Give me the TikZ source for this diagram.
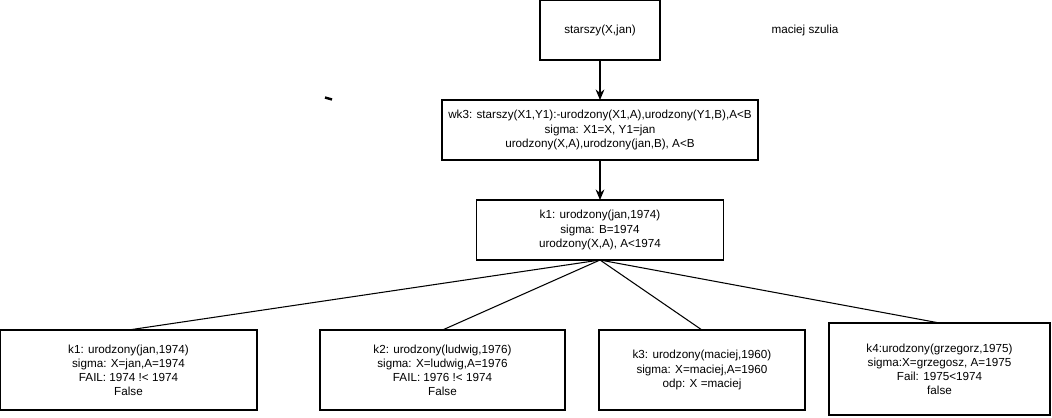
\documentclass[tikz,border=0pt]{standalone}
\usepackage{fontspec}
\setmainfont{Liberation Sans}
\usepackage{xcolor}
\usetikzlibrary{positioning, arrows.meta}

\begin{document}
\begin{tikzpicture}[
            box/.style={
                    draw,
                    line width=0.6pt,
                    inner sep=0pt,
                    outer sep=0pt,
                    minimum height=1.2cm,
                    align=center,
                    font=\fontsize{6.65}{8}\selectfont
                },
            arrow/.style={
                    -{Stealth[length=6pt,width=5pt]},
                    line width=0.6pt
                },
            edge/.style={
                    line width=0.6pt
                }
        ]

        \useasboundingbox (0,0) rectangle (21.04,-8.34);


        \node[box,minimum width=2.4cm] (goal) at (12,-0.6)
        {starszy(X,jan)};


        \node[font=\fontsize{6.65}{8}\selectfont] (author) at (16.1,-0.6)
        {maciej szulia};


        \node[box,minimum width=6.32cm,below=0.8cm of goal]
        (wk3)
        {wk3: starszy(X1,Y1):-urodzony(X1,A),urodzony(Y1,B),A<B\\
            sigma: X1=X, Y1=jan\\
            urodzony(X,A),urodzony(jan,B), A<B};


        \node[box,minimum width=4.94cm,below=0.8cm of wk3]
        (k1)
        {k1: urodzony(jan,1974)\\
            sigma: B=1974\\
            urodzony(X,A), A<1974};


        \node[box,minimum width=5.14cm,minimum height=1.6cm] (kjan) at (2.57,-7.4)
        {k1: urodzony(jan,1974)\\
            sigma: X=jan,A=1974\\
            FAIL: 1974 !< 1974\\
            False};


        \node[box,minimum width=4.9cm,minimum height=1.6cm] (kludwig) at (8.85,-7.4)
        {k2: urodzony(ludwig,1976)\\
            sigma: X=ludwig,A=1976\\
            FAIL: 1976 !< 1974\\
            False};


        \node[box,minimum width=4.12cm,minimum height=1.6cm] (kmaciej) at (14.04,-7.4)
        {k3: urodzony(maciej,1960)\\
            sigma: X=maciej,A=1960\\
            odp: X =maciej};


        \node[box,minimum width=4.42cm,minimum height=1.84cm] (kgrzegorz) at (18.79,-7.38)
        {k4:urodzony(grzegorz,1975)\\
            sigma:X=grzegosz, A=1975\\
            Fail: 1975<1974\\
            false};


        \draw[arrow](goal)--(wk3);
        \draw[arrow](wk3)--(k1);
        \draw[edge](k1.south)--(kjan.north);
        \draw[edge](k1.south)--(kludwig.north);
        \draw[edge](k1.south)--(kmaciej.north);
        \draw[edge](k1.south)--(kgrzegorz.north);


        % stray mark
        \coordinate (markA) at (6.5,-1.95);
        \coordinate (markB) at (6.64,-1.99);
        \draw[line width=1.4pt](markA)--(markB);


    \end{tikzpicture}
\end{document}
